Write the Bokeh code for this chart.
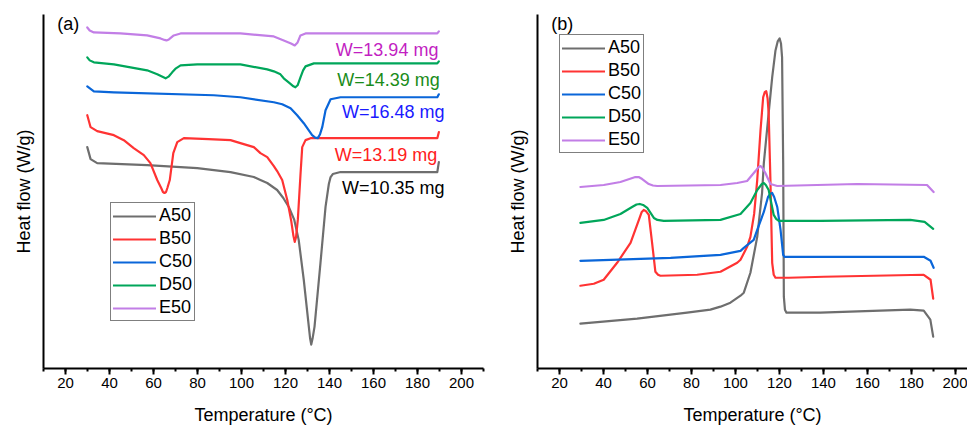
from bokeh.plotting import figure
from bokeh.layouts import row
from bokeh.models import Legend, LegendItem, SingleIntervalTicker, FixedTicker, Range1d, Label, ColumnDataSource
from bokeh.core.properties import value
from bokeh.embed import file_html
from bokeh.resources import INLINE

FONT = "Liberation Sans"

# ---------------- data ----------------
names = ["A50", "B50", "C50", "D50", "E50"]
line_colors = ["#6e6e6e", "#ff3333", "#0a66d9", "#00a65a", "#c27ee6"]

# Panel (a): heating curves (arbitrary heat-flow units, offset for clarity)
A50_a_T = [29.9, 31.4, 34.4, 57.1, 79.9, 95.0, 105.6, 108.6, 111.7, 116.2, 119.0, 121.5, 124.0, 126.0, 128.3,
           130.6, 131.2, 131.7, 132.3, 133.2, 135.9, 138.2, 139.7, 140.5, 141.5, 145.0, 189.0, 189.7]
A50_a_y = [2.22, 2.10, 2.06, 2.04, 2.01, 1.97, 1.92, 1.89, 1.86, 1.79, 1.71, 1.62, 1.49, 1.29, 0.89,
           0.42, 0.30, 0.24, 0.30, 0.42, 1.06, 1.62, 1.85, 1.92, 1.95, 1.97, 1.97, 2.07]
B50_a_T = [29.9, 31.4, 34.4, 42.0, 46.5, 51.0, 55.6, 58.6, 61.7, 63.5, 64.3, 65.0, 65.7, 66.3, 67.4, 69.0,
           70.8, 73.8, 85.0, 95.0, 99.5, 105.6, 108.6, 111.7, 114.7, 116.2, 118.5, 120.8, 122.6, 123.6,
           124.2, 124.8, 125.6, 126.8, 127.6, 129.1, 131.4, 160.0, 189.0, 189.7]
B50_a_y = [2.54, 2.42, 2.38, 2.34, 2.29, 2.21, 2.14, 2.06, 1.89, 1.81, 1.77, 1.76, 1.77, 1.81, 1.89, 2.16,
           2.27, 2.31, 2.30, 2.29, 2.26, 2.22, 2.16, 2.12, 2.03, 1.98, 1.89, 1.69, 1.48, 1.33,
           1.27, 1.32, 1.49, 1.94, 2.22, 2.29, 2.31, 2.31, 2.31, 2.37]
C50_a_T = [29.9, 32.9, 42.0, 87.4, 99.5, 114.7, 118.5, 122.3, 125.3, 128.3, 132.1, 133.5, 134.7, 135.7, 136.7,
           138.2, 140.5, 145.0, 189.0, 189.7]
C50_a_y = [2.83, 2.78, 2.77, 2.74, 2.72, 2.67, 2.65, 2.61, 2.54, 2.46, 2.34, 2.315, 2.31, 2.35, 2.42,
           2.59, 2.70, 2.72, 2.72, 2.75]
D50_a_T = [29.9, 31.0, 32.9, 42.0, 57.1, 61.7, 63.6, 65.5, 67.0, 68.5, 70.2, 72.3, 79.9, 99.5, 111.7, 114.7,
           117.7, 119.2, 122.0, 123.6, 124.5, 125.5, 126.8, 128.0, 129.1, 132.9, 189.0, 189.7]
D50_a_y = [3.12, 3.09, 3.07, 3.05, 2.99, 2.95, 2.93, 2.91, 2.93, 2.97, 3.01, 3.04, 3.05, 3.05, 3.00, 2.98,
           2.95, 2.91, 2.86, 2.83, 2.82, 2.84, 2.92, 2.99, 3.03, 3.06, 3.06, 3.08]
E50_a_T = [29.9, 31.0, 32.9, 45.0, 57.1, 63.2, 65.0, 65.9, 67.0, 69.2, 72.3, 99.5, 114.7, 119.2, 122.5, 124.2,
           125.5, 126.8, 129.1, 189.0, 189.7]
E50_a_y = [3.42, 3.39, 3.37, 3.36, 3.34, 3.31, 3.295, 3.29, 3.30, 3.34, 3.36, 3.36, 3.33, 3.29, 3.26, 3.24,
           3.27, 3.34, 3.36, 3.36, 3.38]

# Panel (b): cooling curves
A50_b_T = [29.5, 55.3, 78.0, 88.6, 93.2, 97.7, 102.3, 103.8, 106.8, 109.9, 112.1, 112.9, 115.1, 116.7, 118.2,
           119.2, 120.1, 120.7, 121.2, 121.7, 122.0, 122.5, 123.2, 138.6, 179.5, 185.6, 188.6, 189.9]
A50_b_y = [0.45, 0.50, 0.56, 0.59, 0.62, 0.66, 0.73, 0.76, 0.96, 1.32, 1.76, 2.06, 2.56, 2.92, 3.19,
           3.28, 3.31, 3.26, 3.12, 2.06, 0.72, 0.59, 0.56, 0.56, 0.59, 0.58, 0.49, 0.32]
B50_b_T = [29.5, 35.6, 40.1, 46.2, 52.3, 56.1, 57.4, 58.3, 59.2, 60.6, 62.1, 63.6, 64.8, 65.9, 82.6,
           93.2, 100.8, 102.3, 105.3, 106.8, 108.5, 109.9, 111.4, 112.6, 113.3, 114.0, 114.6, 115.1, 115.9,
           116.7, 117.4, 118.2, 124.3, 140.2, 185.6, 188.7, 189.9]
B50_b_y = [0.83, 0.85, 0.89, 1.06, 1.26, 1.49, 1.57, 1.59, 1.58, 1.54, 1.26, 0.97, 0.94, 0.93, 0.94,
           0.97, 1.06, 1.09, 1.22, 1.32, 1.55, 1.89, 2.39, 2.72, 2.77, 2.78, 2.71, 2.56, 1.89,
           1.06, 0.94, 0.91, 0.91, 0.92, 0.94, 0.89, 0.70]
C50_b_T = [29.5, 70.5, 93.2, 102.3, 103.8, 108.3, 109.9, 112.9, 114.8, 115.8, 116.7, 117.6, 119.0, 120.5,
           121.7, 122.3, 131.0, 140.2, 185.6, 188.7, 190.1]
C50_b_y = [1.08, 1.11, 1.14, 1.18, 1.21, 1.29, 1.39, 1.57, 1.72, 1.75, 1.76, 1.72, 1.62, 1.39,
           1.14, 1.12, 1.12, 1.12, 1.12, 1.08, 1.01]
D50_b_T = [29.5, 40.1, 47.7, 53.0, 55.0, 56.5, 58.0, 59.9, 62.9, 64.5, 67.4, 93.2, 102.3, 106.8, 109.9,
           112.0, 112.9, 113.8, 115.1, 117.4, 118.5, 119.7, 138.6, 179.5, 186.0, 189.9]
D50_b_y = [1.46, 1.49, 1.55, 1.62, 1.645, 1.65, 1.64, 1.61, 1.51, 1.49, 1.48, 1.49, 1.55, 1.66, 1.79,
           1.85, 1.86, 1.84, 1.79, 1.54, 1.50, 1.48, 1.48, 1.49, 1.47, 1.40]
E50_b_T = [29.5, 40.1, 47.7, 54.5, 56.0, 57.6, 60.6, 62.5, 64.4, 93.2, 100.8, 105.3, 109.1, 110.5, 111.4,
           112.3, 113.6, 115.9, 119.0, 155.3, 187.1, 190.1]
E50_b_y = [1.82, 1.84, 1.87, 1.92, 1.92, 1.90, 1.85, 1.835, 1.83, 1.84, 1.86, 1.88, 1.98, 2.02, 2.03,
           2.01, 1.96, 1.85, 1.83, 1.85, 1.84, 1.77]

# sample masses annotated in panel (a)
mass_labels = ["W=13.94 mg", "W=14.39 mg", "W=16.48 mg", "W=13.19 mg", "W=10.35 mg"]
mass_colors = ["#c21fc2", "#1a8c1a", "#1a1aff", "#ff2020", "#000000"]

x_tick_interval = 20
panel_a = [(A50_a_T, A50_a_y), (B50_a_T, B50_a_y), (C50_a_T, C50_a_y), (D50_a_T, D50_a_y), (E50_a_T, E50_a_y)]
panel_b = [(A50_b_T, A50_b_y), (B50_b_T, B50_b_y), (C50_b_T, C50_b_y), (D50_b_T, D50_b_y), (E50_b_T, E50_b_y)]


def make_fig(width, left, right, xmax, series, legend_loc, tag):
    p = figure(width=width, height=427, x_range=Range1d(10, xmax), y_range=Range1d(0, 3.55),
               output_backend="svg", toolbar_location=None,
               min_border_left=left, min_border_right=right, min_border_top=14, min_border_bottom=58)
    p.outline_line_color = None
    p.grid.visible = False
    p.background_fill_color = "white"

    xa = p.xaxis[0]
    xa.ticker = SingleIntervalTicker(interval=x_tick_interval, num_minor_ticks=2)
    xa.axis_line_width = 2
    xa.axis_line_color = "black"
    xa.major_tick_line_width = 2
    xa.minor_tick_line_width = 2
    xa.major_tick_out = 6
    xa.major_tick_in = 0
    xa.minor_tick_out = 3
    xa.minor_tick_in = 0
    xa.major_tick_line_color = "black"
    xa.minor_tick_line_color = "black"
    xa.major_label_text_font = FONT
    xa.major_label_text_font_size = "15px"
    xa.major_label_text_color = "black"
    xa.major_label_standoff = 3
    xa.axis_label = "Temperature (°C)"
    xa.axis_label_text_font = FONT
    xa.axis_label_text_font_size = "18px"
    xa.axis_label_text_font_style = "normal"
    xa.axis_label_text_color = "black"
    xa.axis_label_standoff = 14

    ya = p.yaxis[0]
    ya.ticker = FixedTicker(ticks=[])
    ya.axis_line_width = 2
    ya.axis_line_color = "black"
    ya.major_tick_out = 0
    ya.major_tick_in = 0
    ya.minor_tick_out = 0
    ya.minor_tick_in = 0
    ya.major_label_text_font_size = "0px"
    ya.axis_label = "Heat flow (W/g)"
    ya.axis_label_text_font = FONT
    ya.axis_label_text_font_size = "18px"
    ya.axis_label_text_font_style = "normal"
    ya.axis_label_text_color = "black"
    ya.axis_label_standoff = 10

    items = []
    for (T, y), name, col in zip(series, names, line_colors):
        r = p.line(T, y, line_color=col, line_width=2.2, line_join="round", line_cap="round")
        items.append(LegendItem(label=name, renderers=[r]))

    legend = Legend(items=items, location=legend_loc,
                    label_text_font=FONT, label_text_font_size="18px", label_text_color="black",
                    glyph_width=43, glyph_height=20, label_height=20, label_standoff=3,
                    padding=2, spacing=2, margin=0,
                    border_line_color="black", border_line_width=1,
                    background_fill_color="white", background_fill_alpha=1.0)
    p.add_layout(legend)

    p.add_layout(Label(x=16.2, y=3.45, text=tag, text_font=FONT, text_font_size="18px",
                       text_baseline="middle", text_align="left", text_color="black"))
    return p


p1 = make_fig(500, 43, 17, 210, panel_a, (67, 47), "(a)")
p2 = make_fig(467, 37, 0, 205.5, panel_b, (22, 215), "(b)")

# mass annotations in panel (a)
label_x = [189.5, 190.1, 192.3, 189.0, 192.3]
label_y = [3.19, 2.89, 2.57, 2.14, 1.81]
src = ColumnDataSource(dict(x=label_x, y=label_y, text=mass_labels, color=mass_colors))
p1.text(x="x", y="y", text="text", text_color="color", source=src,
        text_align="right", text_baseline="middle",
        text_font=value(FONT), text_font_size="18px")

layout = row(p1, p2)
open("out.html", "w").write(file_html(layout, INLINE))
